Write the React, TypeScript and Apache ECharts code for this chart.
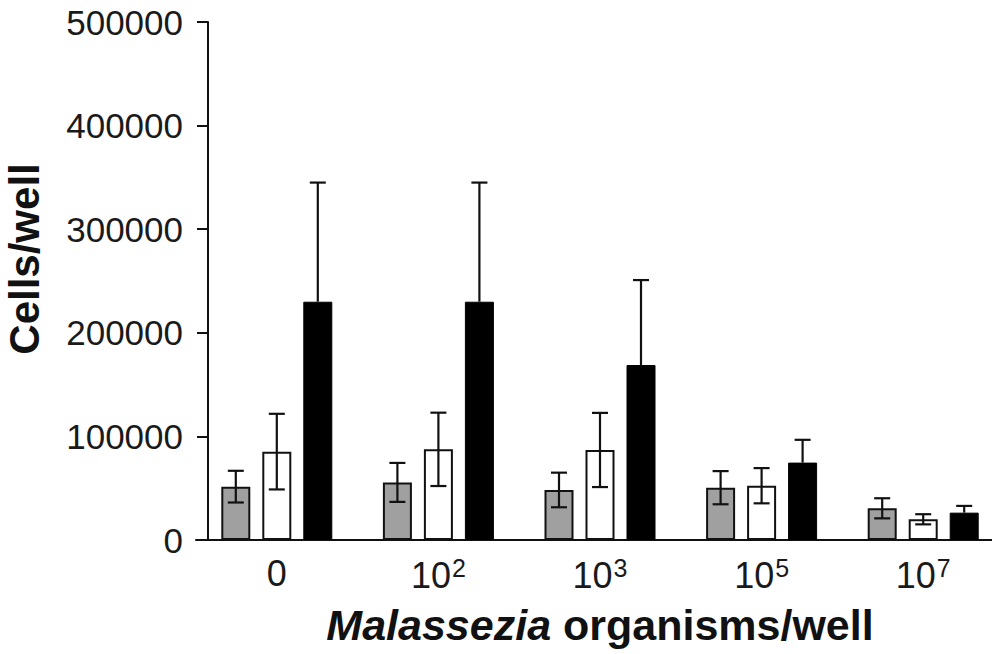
import React, { useEffect, useRef } from "react";
import * as echarts from "echarts";

const categories = ["0", "10^2", "10^3", "10^5", "10^7"];
const grayMeans = [51500, 55600, 48300, 50500, 30600];
const grayErrs = [15300, 18800, 16700, 16000, 9700];
const whiteMeans = [85300, 87500, 86900, 52400, 20000];
const whiteErrs = [36500, 35400, 35800, 17000, 4900];
const blackMeans = [230000, 230000, 168900, 74700, 26400];
const blackErrs = [115000, 115000, 82000, 22000, 6500];
const yTicks = [0, 100000, 200000, 300000, 400000, 500000];

const FONT = "'Liberation Sans', Arial, Helvetica, sans-serif";
const BAR_W = 29;
const BAR_GAP = 12;

function errSeries(means: number[], errs: number[], slot: number, lower: boolean) {
  return {
    type: "custom",
    z: 5,
    silent: true,
    data: means.map((m, i) => [i, m, errs[i]]),
    renderItem: (params: any, api: any) => {
      const i = api.value(0);
      const m = api.value(1);
      const e = api.value(2);
      const c = api.coord([i, m]);
      const t = api.coord([i, m + e]);
      const b = api.coord([i, lower ? m - e : m]);
      const x = c[0] + (slot - 1) * (BAR_W + BAR_GAP);
      const cap = 8;
      const style = { stroke: "#111", lineWidth: 2.2 };
      const children: any[] = [
        { type: "line", shape: { x1: x, y1: t[1], x2: x, y2: b[1] }, style },
        { type: "line", shape: { x1: x - cap, y1: t[1], x2: x + cap, y2: t[1] }, style },
      ];
      if (lower) {
        children.push({ type: "line", shape: { x1: x - cap, y1: b[1], x2: x + cap, y2: b[1] }, style });
      }
      return { type: "group", children };
    },
  };
}

export default function App() {
  const ref = useRef<HTMLDivElement>(null);
  useEffect(() => {
    if (!ref.current) return;
    const chart = echarts.init(ref.current, null, { renderer: "svg" });
    chart.setOption({
      animation: false,
      backgroundColor: "#ffffff",
      grid: { left: 196, top: 22, width: 808, height: 518, outerBoundsMode: "none", containLabel: false },
      xAxis: {
        type: "category",
        data: categories,
        name: "{it|Malassezia} organisms/well",
        nameLocation: "middle",
        nameGap: 63,
        nameTextStyle: {
          fontFamily: FONT,
          fontSize: 43,
          fontWeight: "bold",
          color: "#111",
          rich: {
            it: { fontFamily: FONT, fontSize: 43, fontWeight: "bold", fontStyle: "italic", color: "#111" },
          },
        },
        axisLine: { lineStyle: { color: "#111", width: 2 } },
        axisTick: { show: false },
        axisLabel: {
          interval: 0,
          margin: 15,
          fontFamily: FONT,
          fontSize: 36,
          color: "#1a1a1a",
          formatter: (v: string) => {
            const p = v.split("^");
            return p.length > 1 ? `${p[0]}{sup|${p[1]}}` : v;
          },
          rich: {
            sup: { fontFamily: FONT, fontSize: 25, color: "#1a1a1a", verticalAlign: "top", padding: [0, 0, 16, 1] },
          },
        },
      },
      yAxis: {
        type: "value",
        min: yTicks[0],
        max: yTicks[yTicks.length - 1],
        interval: yTicks[1] - yTicks[0],
        offset: -12,
        name: "Cells/well",
        nameLocation: "middle",
        nameGap: 163,
        nameTextStyle: {
          fontFamily: FONT,
          fontSize: 42,
          fontWeight: "bold",
          color: "#111",
          padding: [0, 0, 0, 44],
        },
        axisLine: { show: true, lineStyle: { color: "#111", width: 2 } },
        axisTick: { show: true, length: 11, lineStyle: { color: "#111", width: 2 } },
        splitLine: { show: false },
        axisLabel: {
          margin: 25,
          fontFamily: FONT,
          fontSize: 35,
          color: "#1a1a1a",
          formatter: (v: number) => String(v),
        },
      },
      series: [
        {
          type: "bar",
          data: grayMeans,
          barWidth: BAR_W,
          barGap: `${(BAR_GAP / BAR_W) * 100}%`,
          itemStyle: { color: "#a0a0a0", borderColor: "#111", borderWidth: 2 },
        },
        {
          type: "bar",
          data: whiteMeans,
          barWidth: BAR_W,
          barGap: `${(BAR_GAP / BAR_W) * 100}%`,
          itemStyle: { color: "#ffffff", borderColor: "#111", borderWidth: 2 },
        },
        {
          type: "bar",
          data: blackMeans,
          barWidth: BAR_W,
          barGap: `${(BAR_GAP / BAR_W) * 100}%`,
          itemStyle: { color: "#000000", borderColor: "#000", borderWidth: 1 },
        },
        errSeries(grayMeans, grayErrs, 0, true),
        errSeries(whiteMeans, whiteErrs, 1, true),
        errSeries(blackMeans, blackErrs, 2, false),
      ],
    });
    return () => chart.dispose();
  }, []);
  return (
    <div
      ref={ref}
      style={{ position: "fixed", left: 0, top: 0, width: 992, height: 654, background: "#fff" }}
    />
  );
}
